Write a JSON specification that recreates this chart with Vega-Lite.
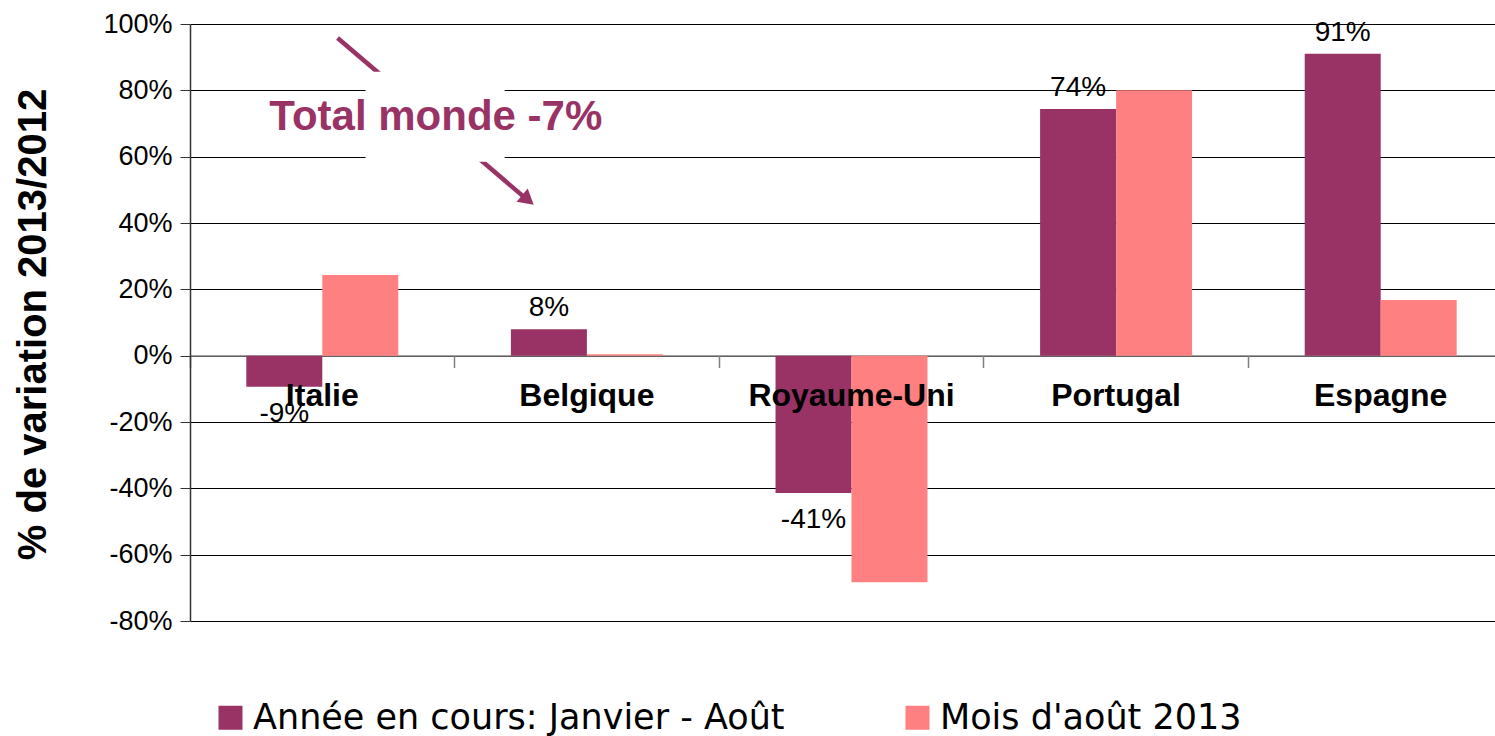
{
  "$schema": "https://vega.github.io/schema/vega-lite/v6.json",
  "width": 1305,
  "height": 597,
  "autosize": {"type": "none"},
  "padding": {"left": 190, "top": 24, "right": 0, "bottom": 115},
  "background": "white",
  "config": {
    "view": {"stroke": null},
    "font": "Liberation Sans",
    "locale": {"number": {"decimal": ".", "thousands": ",", "grouping": [3], "currency": ["$", ""], "minus": "-"}}
  },
  "datasets": {
    "bars": [
      {"pays": "Italie", "serie": "Année en cours: Janvier - Août", "v": -0.094},
      {"pays": "Italie", "serie": "Mois d'août 2013", "v": 0.243},
      {"pays": "Belgique", "serie": "Année en cours: Janvier - Août", "v": 0.08},
      {"pays": "Belgique", "serie": "Mois d'août 2013", "v": 0.004},
      {"pays": "Royaume-Uni", "serie": "Année en cours: Janvier - Août", "v": -0.414},
      {"pays": "Royaume-Uni", "serie": "Mois d'août 2013", "v": -0.683},
      {"pays": "Portugal", "serie": "Année en cours: Janvier - Août", "v": 0.744},
      {"pays": "Portugal", "serie": "Mois d'août 2013", "v": 0.8},
      {"pays": "Espagne", "serie": "Année en cours: Janvier - Août", "v": 0.91},
      {"pays": "Espagne", "serie": "Mois d'août 2013", "v": 0.168}
    ]
  },
  "layer": [
    {
      "data": {"name": "bars"},
      "encoding": {
        "x": {
          "field": "pays",
          "type": "nominal",
          "sort": ["Italie", "Belgique", "Royaume-Uni", "Portugal", "Espagne"],
          "scale": {"range": [0, 1323], "paddingInner": 0, "paddingOuter": 0},
          "axis": {
            "orient": "bottom",
            "offset": -265.4,
            "domainColor": "#808080",
            "domainWidth": 1.5,
            "ticks": true,
            "tickColor": "#808080",
            "tickWidth": 1.5,
            "tickSize": 12,
            "bandPosition": 0,
            "labels": false,
            "title": null,
            "grid": false
          }
        },
        "y": {
          "field": "v",
          "type": "quantitative",
          "scale": {"domain": [-0.8, 1.0], "nice": false},
          "axis": {
            "values": [-0.8, -0.6, -0.4, -0.2, 0, 0.2, 0.4, 0.6, 0.8, 1.0],
            "format": ".0%",
            "grid": true,
            "gridColor": "#000000",
            "gridWidth": 1,
            "domainColor": "#333333",
            "domainWidth": 1.5,
            "tickColor": "#333333",
            "tickSize": 10,
            "labelFont": "Liberation Sans",
            "labelFontSize": 27,
            "labelColor": "#000000",
            "labelPadding": 8,
            "title": "% de variation 2013/2012",
            "titleFont": "Liberation Sans",
            "titleFontSize": 40,
            "titleFontWeight": "bold",
            "titleColor": "#000000",
            "titleAngle": -90,
            "titleBaseline": "alphabetic",
            "titleAlign": "center",
            "titleX": -145,
            "titleY": 300
          }
        }
      },
      "layer": [
        {
          "mark": {"type": "bar"},
          "encoding": {
            "xOffset": {
              "field": "serie",
              "type": "nominal",
              "sort": ["Année en cours: Janvier - Août", "Mois d'août 2013"],
              "scale": {"paddingOuter": 0.741, "paddingInner": 0}
            },
            "color": {
              "field": "serie",
              "type": "nominal",
              "scale": {
                "domain": ["Année en cours: Janvier - Août", "Mois d'août 2013"],
                "range": ["#993366", "#FF8080"]
              },
              "legend": {
                "orient": "none",
                "legendX": 23,
                "legendY": 676,
                "direction": "horizontal",
                "columns": 2,
                "columnPadding": 115,
                "symbolType": "square",
                "symbolSize": 576,
                "symbolStrokeWidth": 0,
                "labelFont": "DejaVu Sans",
                "labelFontSize": 35,
                "labelColor": "#000000",
                "labelOffset": 5,
                "labelLimit": 1000,
                "title": null,
                "padding": 0
              }
            }
          }
        },
        {
          "transform": [{"filter": "datum.serie == 'Année en cours: Janvier - Août' && datum.v >= 0"}],
          "mark": {"type": "text", "dy": -13, "baseline": "alphabetic", "fontSize": 28, "font": "Liberation Sans", "color": "#000000"},
          "encoding": {
            "xOffset": {"field": "serie", "type": "nominal", "sort": ["Année en cours: Janvier - Août", "Mois d'août 2013"]},
            "text": {"field": "v", "type": "quantitative", "format": ".0%"}
          }
        },
        {
          "transform": [{"filter": "datum.serie == 'Année en cours: Janvier - Août' && datum.v < 0"}],
          "mark": {"type": "text", "dy": 35, "baseline": "alphabetic", "fontSize": 28, "font": "Liberation Sans", "color": "#000000"},
          "encoding": {
            "xOffset": {"field": "serie", "type": "nominal", "sort": ["Année en cours: Janvier - Août", "Mois d'août 2013"]},
            "text": {"field": "v", "type": "quantitative", "format": ".0%"}
          }
        },
        {
          "transform": [{"filter": "datum.serie == 'Année en cours: Janvier - Août'"}],
          "mark": {"type": "text", "dy": 50, "baseline": "alphabetic", "fontSize": 32, "fontWeight": "bold", "font": "Liberation Sans", "color": "#000000"},
          "encoding": {
            "y": {"datum": 0},
            "text": {"field": "pays"}
          }
        }
      ]
    },
    {
      "data": {"values": [{}]},
      "layer": [
        {
          "mark": {"type": "rule", "color": "#993366", "strokeWidth": 4.5},
          "encoding": {
            "x": {"datum": 0.5577, "type": "quantitative", "scale": {"domain": [0, 5], "range": [0, 1323], "nice": false, "zero": false}, "axis": null},
            "y": {"datum": 0.9577, "type": "quantitative"},
            "x2": {"datum": 1.2684},
            "y2": {"datum": 0.4742}
          }
        },
        {
          "mark": {"type": "rect", "color": "white"},
          "encoding": {
            "x": {"datum": 0.6635, "type": "quantitative"},
            "x2": {"datum": 1.189},
            "y": {"datum": 0.8561, "type": "quantitative"},
            "y2": {"datum": 0.5843}
          }
        },
        {
          "mark": {"type": "point", "shape": "triangle-up", "filled": true, "color": "#993366", "opacity": 1, "size": 300, "angle": 130},
          "encoding": {
            "x": {"datum": 1.2771, "type": "quantitative"},
            "y": {"datum": 0.4694, "type": "quantitative"}
          }
        },
        {
          "mark": {"type": "text", "text": "Total monde -7%", "font": "Liberation Sans", "fontSize": 42, "fontWeight": "bold", "color": "#993366", "baseline": "alphabetic", "align": "center"},
          "encoding": {
            "x": {"datum": 0.929, "type": "quantitative"},
            "y": {"datum": 0.681, "type": "quantitative"}
          }
        }
      ]
    }
  ],
  "resolve": {"scale": {"x": "independent"}}
}
